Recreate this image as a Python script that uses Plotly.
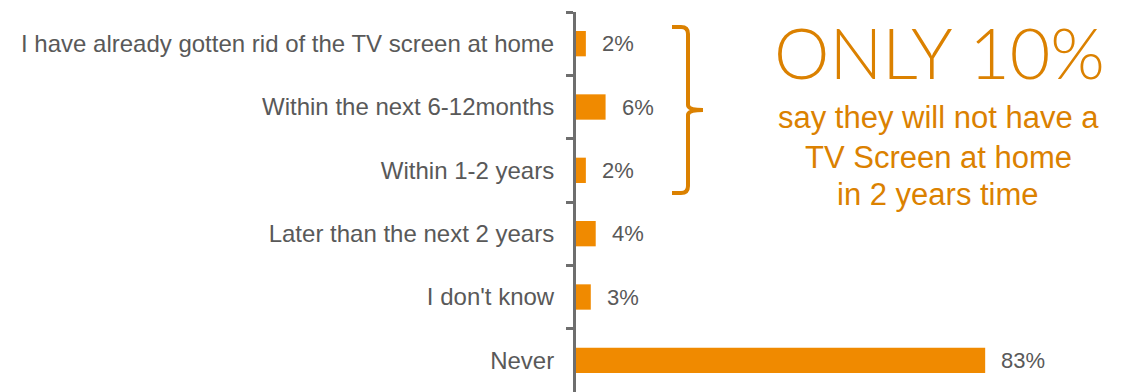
import plotly.graph_objects as go

categories = [
    "I have already gotten rid of the TV screen at home",
    "Within the next 6-12months",
    "Within 1-2 years",
    "Later than the next 2 years",
    "I don't know",
    "Never",
]
values = [2, 6, 2, 4, 3, 83]
headline = "ONLY 10%"
sublines = ["say they will not have a", "TV Screen at home", "in 2 years time"]

BAR = "#F08A00"
ACCENT = "#DB8100"
GRAY = "#595959"
AXIS = "#6E6E6E"

OFF = 8  # page body margin
W, H = 1138 - OFF, 392 - OFF
L, R, T, B = 576 - OFF, 0, 12 - OFF, 0
PW, PH = W - L - R, H - T - B


def px(x):
    return (x - OFF - L) / PW


def py(y):
    return (H - B - (y - OFF)) / PH


fig = go.Figure(
    go.Bar(
        x=values,
        y=categories,
        orientation="h",
        marker=dict(color=BAR, line=dict(width=0)),
        width=0.4,
        hoverinfo="skip",
    )
)

for c, v in zip(categories, values):
    fig.add_annotation(
        x=v, y=c, xref="x", yref="y", text=f"{v}%", showarrow=False,
        xanchor="left", xshift=14,
        font=dict(family="Liberation Sans, Arial", size=22, color=GRAY),
    )

# bracket
x0, xv, xm = 672, 688, 703
yt, ym, yb = 27, 110, 193
r = 7
path = (
    f"M {px(x0)} {py(yt)} L {px(xv - r)} {py(yt)} "
    f"Q {px(xv)} {py(yt)} {px(xv)} {py(yt + r)} "
    f"L {px(xv)} {py(ym - 5)} Q {px(xv)} {py(ym)} {px(xm)} {py(ym)} "
    f"Q {px(xv)} {py(ym)} {px(xv)} {py(ym + 5)} "
    f"L {px(xv)} {py(yb - r)} Q {px(xv)} {py(yb)} {px(xv - r)} {py(yb)} "
    f"L {px(x0)} {py(yb)}"
)
fig.add_shape(type="path", path=path, xref="paper", yref="paper",
              line=dict(color=ACCENT, width=4))

fig.add_annotation(
    x=px(939), y=py(OFF), xref="paper", yref="paper", text=headline,
    showarrow=False, xanchor="center", yanchor="top",
    font=dict(family="Lato, Open Sans", size=70, color=ACCENT, weight=300),
)
for line, yc in zip(sublines, [118, 157, 194]):
    fig.add_annotation(
        x=px(938), y=py(yc), xref="paper", yref="paper", text=line,
        showarrow=False, xanchor="center", yanchor="middle",
        font=dict(family="Liberation Sans, Arial", size=31, color=ACCENT),
    )

fig.update_layout(
    width=W, height=H,
    margin=dict(l=L, r=R, t=T, b=B, pad=0),
    paper_bgcolor="white", plot_bgcolor="white",
    showlegend=False,
    bargap=0.6,
    xaxis=dict(range=[0, 114], visible=False, fixedrange=True),
    yaxis=dict(
        categoryorder="array", categoryarray=categories,
        autorange="reversed",
        showline=True, linecolor=AXIS, linewidth=3,
        ticks="outside", tickson="boundaries", ticklen=7, tickwidth=3,
        tickcolor=AXIS, ticklabelstandoff=14,
        tickfont=dict(family="Liberation Sans, Arial", size=24, color=GRAY),
        showgrid=False, zeroline=False,
    ),
)

fig.write_html("out.html")
